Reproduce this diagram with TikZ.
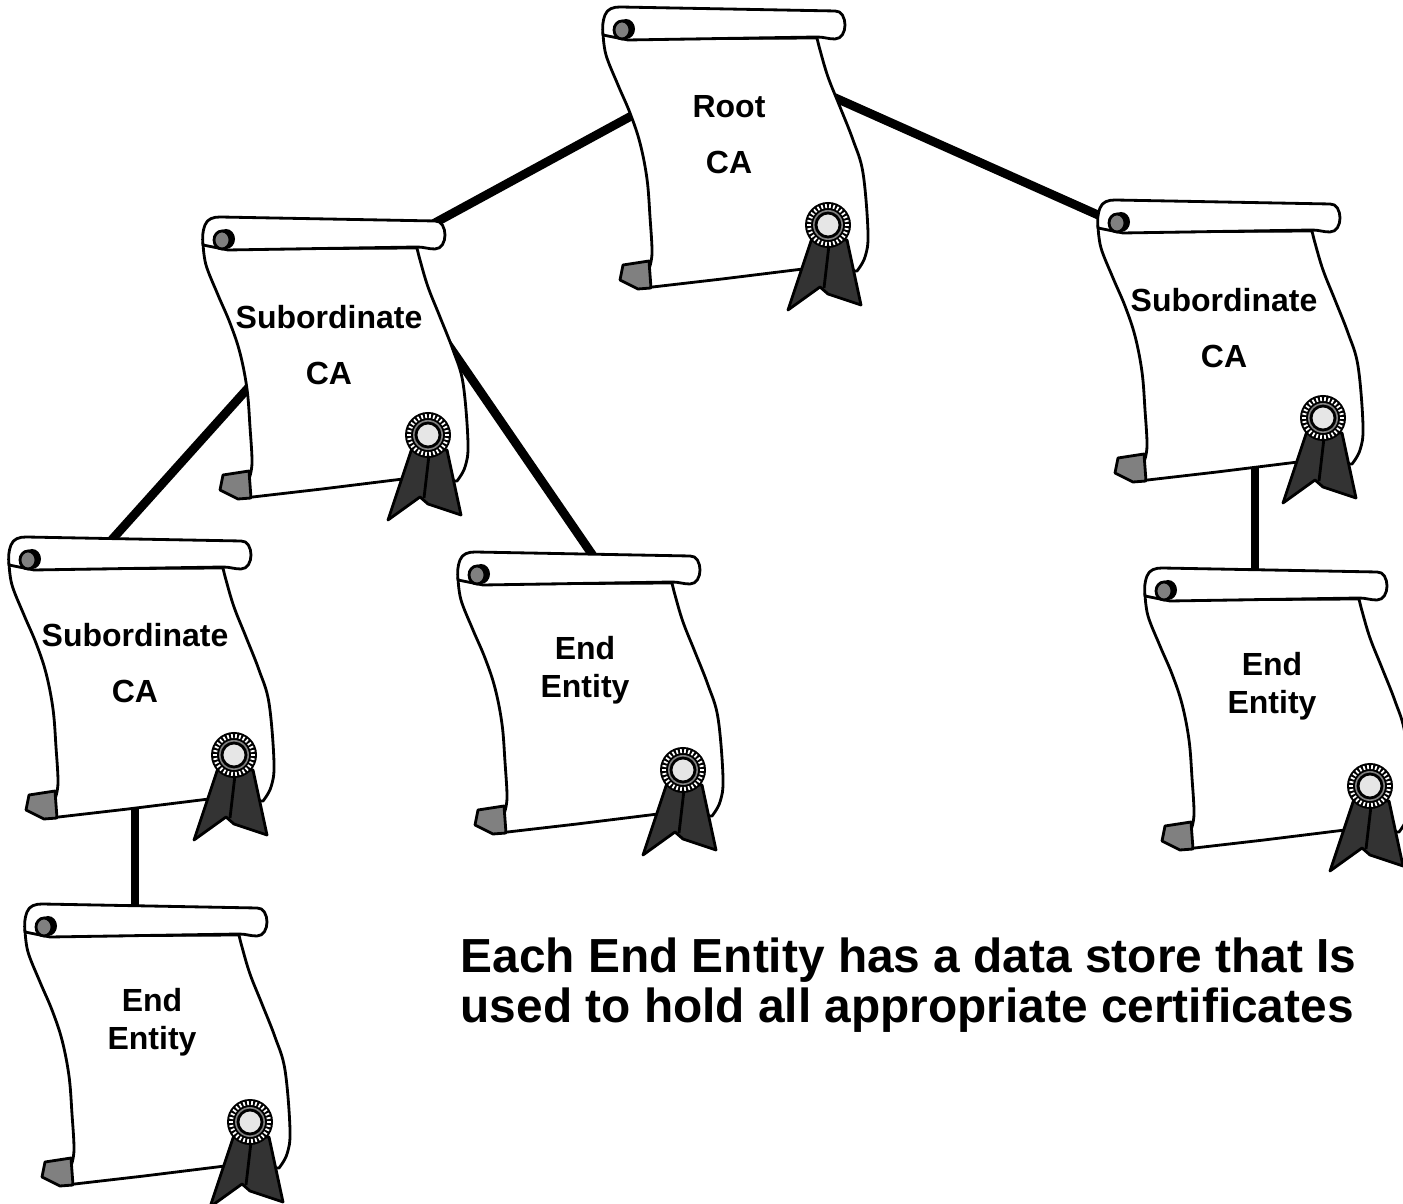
\documentclass[tikz,border=0pt]{standalone}
\usepackage{fontspec}
\setmainfont{Liberation Sans}
\usetikzlibrary{backgrounds}

\definecolor{rollgray}{HTML}{808080}
\definecolor{ribbon}{HTML}{333333}
\definecolor{sealface}{HTML}{E6E6E6}

\tikzset{
  outline/.style={line width=.8pt,line join=round},
  cert/.style={font=\bfseries\fontsize{9.1}{10.8}\selectfont,align=center,inner sep=0pt},
  chain/.style={line width=2.5pt},
  % certificate scroll, local units are 0.01cm with y going down
  pics/scroll/.style={code={
    % paper
    \filldraw[outline,fill=white]
      plot[smooth,tension=.6] coordinates {(1,26) (4,48) (16,78) (28,106) (38,136) (45,172) (48,210) (50,246) (47,262)}
      -- (42,281) -- (120,272) -- (201,262) -- (255,264)
      -- plot[smooth,tension=.6] coordinates {(255,264) (263,250) (266,226) (261,166) (251,133) (238,100) (226,70) (218,43) (215,31)}
      -- (24,32) -- cycle;
    % bottom curl
    \filldraw[outline,fill=rollgray] (21,258) -- (47,254) -- (49,281) -- (36,282) -- (18,273) -- cycle;
    % top roll
    \filldraw[outline,fill=white] (1,28) to[out=95,in=250] (3,8) to[out=70,in=180] (18,0) -- (233,4)
      to[out=5,in=90] (243,18) to[out=-90,in=0] (233,32) to[out=180,in=0] (215,30) -- (26,33) -- cycle;
    \fill (24,22) ellipse (9 and 10);
    \filldraw[outline,fill=rollgray] (20,23) ellipse (8 and 9);
    % ribbon and seal
    \filldraw[outline,fill=ribbon] (210,231) -- (186,303) -- (218,280) -- (226,287) -- (259,298) -- (245,233) -- cycle;
    \draw[outline] (227,238) -- (222,281);
    \fill (226,218) circle (23);
    \foreach \a in {0,12,...,348}
      \draw[white,line width=.5pt] (226,218) ++(\a:17) -- ++(\a:4);
    \fill[gray] (226,218) circle (15);
    \filldraw[outline,fill=sealface] (226,218) circle (12);
  }},
}

\begin{document}
\begin{tikzpicture}[x=0.01cm,y=-0.01cm]
\useasboundingbox (0,0) rectangle (1403,1204);

% scrolls
\pic at (602,7) {scroll};
\pic at (202,217) {scroll};
\pic at (1097,200) {scroll};
\pic at (8,537) {scroll};
\pic at (457,552) {scroll};
\pic at (1144,568) {scroll};
\pic at (24,904) {scroll};

% titles
\node[cert] (root) at (729,135) {Root\\[5.1pt]CA};
\node[cert] (sub1) at (329,345) {Subordinate\\[5.1pt]CA};
\node[cert] (sub2) at (1224,328) {Subordinate\\[5.1pt]CA};
\node[cert] (sub3) at (135,663) {Subordinate\\[5.1pt]CA};
\node[cert] (ee1) at (585,670) {End\\Entity};
\node[cert] (ee2) at (1272,686) {End\\Entity};
\node[cert] (ee3) at (152,1022) {End\\Entity};

\node[font=\bfseries\fontsize{13.6}{14}\selectfont,align=left,anchor=base west,inner sep=0pt] (note) at (460,1022)
  {Each End Entity has a data store that Is\\used to hold all appropriate certificates};

% hierarchy links, drawn behind the scrolls
\begin{scope}[on background layer]
\draw[chain] ([shift={(-72,-33)}]root.center) -- ([shift={(91,-114)}]sub1.center);
\draw[chain] ([shift={(84,-47)}]root.center) -- ([shift={(-108,-105)}]sub2.center);
\draw[chain] ([shift={(-71,32)}]sub1.center) -- ([shift={(-27,-119)}]sub3.center);
\draw[chain] ([shift={(105,-21)}]sub1.center) -- ([shift={(13,-107)}]ee1.center);
\draw[chain] ([shift={(0,127)}]sub3.center) -- ([shift={(-17,-107)}]ee3.center);
\draw[chain] ([shift={(31,122)}]sub2.center) -- ([shift={(-17,-106)}]ee2.center);
\end{scope}
\end{tikzpicture}
\end{document}
